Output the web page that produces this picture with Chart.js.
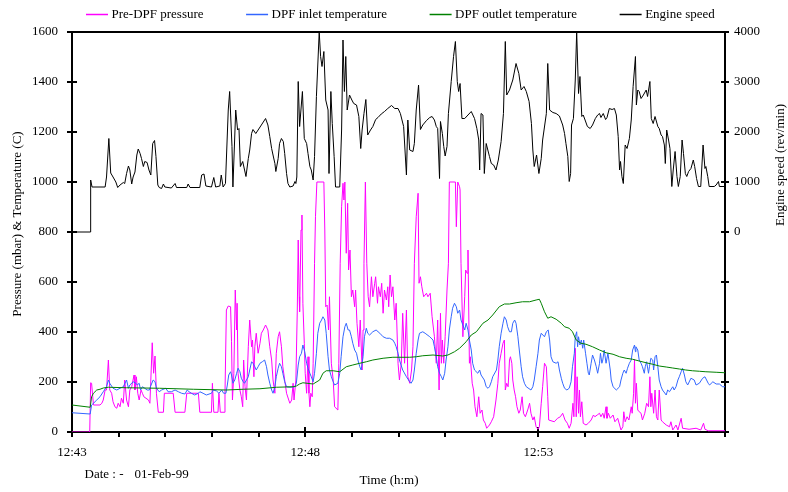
<!DOCTYPE html>
<html>
<head>
<meta charset="utf-8">
<script src="https://cdn.jsdelivr.net/npm/chart.js@4.4.1/dist/chart.umd.min.js"></script>
<style>
  html, body { margin: 0; padding: 0; background: #fff; }
  #wrap { position: relative; width: 788px; height: 492px; }
</style>
</head>
<body>
<div id="wrap"><canvas id="chart" width="788" height="492"></canvas></div>
<script>
const FONT = '"Liberation Serif", "Times New Roman", serif'

// [minutes after 12:43, value]
const pressure = [[0,0],[0.38,0],[0.40,197],[0.42,195],[0.46,108],[0.60,108],[0.64,115],[0.67,128],[0.71,168],[0.74,168],[0.78,288],[0.81,168],[0.85,155],[0.88,121],[0.92,101],[0.96,95],[0.99,115],[1.03,101],[1.06,135],[1.10,115],[1.13,208],[1.17,128],[1.21,101],[1.24,168],[1.28,181],[1.33,228],[1.35,168],[1.38,221],[1.41,155],[1.44,128],[1.48,168],[1.51,155],[1.54,141],[1.64,128],[1.67,115],[1.69,208],[1.72,357],[1.75,235],[1.78,304],[1.81,155],[1.85,79],[1.96,79],[1.98,155],[2.17,155],[2.21,79],[2.42,79],[2.46,155],[2.71,155],[2.74,79],[2.99,79],[3.01,195],[3.04,79],[3.13,79],[3.15,155],[3.18,79],[3.26,79],[3.28,155],[3.31,488],[3.35,504],[3.40,501],[3.42,361],[3.44,128],[3.47,235],[3.50,568],[3.53,408],[3.54,515],[3.56,235],[3.60,168],[3.63,141],[3.66,101],[3.68,288],[3.71,181],[3.74,128],[3.78,341],[3.81,448],[3.85,341],[3.87,368],[3.90,221],[3.92,341],[3.95,395],[3.99,315],[4.03,355],[4.06,395],[4.10,408],[4.15,428],[4.20,408],[4.24,341],[4.28,288],[4.31,208],[4.35,155],[4.38,315],[4.42,381],[4.45,401],[4.49,341],[4.52,261],[4.56,208],[4.60,155],[4.67,115],[4.71,128],[4.74,195],[4.76,128],[4.80,208],[4.83,488],[4.85,768],[4.87,541],[4.88,481],[4.91,808],[4.93,868],[4.95,515],[4.98,355],[5.00,235],[5.03,155],[5.06,301],[5.08,155],[5.10,101],[5.12,155],[5.15,141],[5.17,275],[5.20,675],[5.22,861],[5.25,1000],[5.40,1000],[5.42,808],[5.44,501],[5.47,508],[5.50,408],[5.52,541],[5.56,275],[5.60,208],[5.63,101],[5.70,88],[5.72,275],[5.75,675],[5.78,901],[5.81,995],[5.83,928],[5.85,1000],[5.88,715],[5.91,915],[5.93,648],[5.96,728],[5.99,541],[6.02,568],[6.06,501],[6.08,568],[6.11,435],[6.15,341],[6.18,448],[6.22,248],[6.24,408],[6.26,675],[6.29,1000],[6.32,675],[6.35,541],[6.38,501],[6.42,621],[6.45,541],[6.49,595],[6.51,621],[6.55,515],[6.57,581],[6.61,541],[6.64,595],[6.67,475],[6.70,568],[6.74,528],[6.77,581],[6.79,501],[6.82,628],[6.85,541],[6.88,581],[6.92,448],[6.95,515],[6.99,275],[7.02,208],[7.06,275],[7.09,475],[7.13,275],[7.17,488],[7.20,221],[7.24,195],[7.28,248],[7.31,341],[7.34,675],[7.38,861],[7.42,955],[7.44,595],[7.47,621],[7.50,581],[7.54,541],[7.60,555],[7.63,541],[7.68,555],[7.72,461],[7.77,381],[7.81,275],[7.84,448],[7.87,168],[7.90,475],[7.92,275],[7.94,368],[7.97,275],[8.00,381],[8.04,568],[8.07,675],[8.09,1000],[8.22,1000],[8.24,821],[8.27,1000],[8.31,981],[8.32,968],[8.34,675],[8.38,381],[8.42,541],[8.44,648],[8.47,635],[8.49,728],[8.52,275],[8.54,301],[8.58,195],[8.61,168],[8.64,101],[8.68,61],[8.72,141],[8.75,75],[8.79,88],[8.82,48],[8.86,35],[8.89,15],[8.95,28],[8.99,41],[9.04,61],[9.09,128],[9.13,195],[9.16,275],[9.20,315],[9.24,355],[9.27,368],[9.29,168],[9.32,195],[9.35,181],[9.38,288],[9.40,301],[9.43,275],[9.45,208],[9.48,168],[9.51,141],[9.54,101],[9.58,75],[9.61,88],[9.65,141],[9.68,75],[9.72,61],[9.77,88],[9.81,115],[9.84,75],[9.88,48],[9.91,61],[9.95,21],[9.99,11],[10.02,21],[10.06,115],[10.09,181],[10.13,275],[10.17,261],[10.20,141],[10.22,48],[10.34,41],[10.41,55],[10.47,61],[10.52,75],[10.57,48],[10.62,35],[10.66,15],[10.70,35],[10.74,115],[10.76,61],[10.79,335],[10.81,61],[10.83,221],[10.86,75],[10.88,168],[10.90,61],[10.93,121],[10.96,35],[11.02,28],[11.07,35],[11.13,48],[11.18,68],[11.21,61],[11.26,68],[11.31,75],[11.34,61],[11.38,75],[11.41,55],[11.45,101],[11.47,55],[11.50,75],[11.54,55],[11.60,68],[11.64,41],[11.70,55],[11.74,28],[11.77,8],[11.81,21],[11.83,81],[11.86,41],[11.90,61],[11.94,48],[11.99,101],[12.01,75],[12.04,155],[12.06,290],[12.08,115],[12.10,195],[12.13,88],[12.16,81],[12.20,75],[12.23,48],[12.28,75],[12.32,115],[12.36,101],[12.39,221],[12.41,101],[12.43,155],[12.47,75],[12.50,168],[12.53,61],[12.56,48],[12.59,168],[12.63,48],[12.66,41],[12.74,28],[12.81,21],[12.84,41],[12.88,8],[12.95,28],[12.99,8],[13.06,55],[13.09,15],[13.23,11],[13.38,15],[13.48,8],[13.54,35],[13.57,11],[13.64,5],[14,5]]

const inletTemp = [[0,77],[0.39,72],[0.42,108],[0.46,115],[0.53,128],[0.60,141],[0.67,161],[0.74,181],[0.78,208],[0.81,195],[0.88,175],[0.96,168],[1.03,175],[1.10,181],[1.17,208],[1.21,175],[1.24,188],[1.31,201],[1.37,195],[1.40,188],[1.44,195],[1.47,168],[1.51,181],[1.56,175],[1.61,168],[1.66,168],[1.68,181],[1.74,208],[1.78,201],[1.81,175],[1.87,161],[1.92,168],[2.01,175],[2.06,161],[2.13,161],[2.21,168],[2.28,161],[2.35,155],[2.42,152],[2.47,168],[2.51,161],[2.56,155],[2.63,148],[2.71,155],[2.74,161],[2.81,155],[2.88,148],[2.99,155],[3.03,168],[3.10,164],[3.15,155],[3.21,168],[3.25,155],[3.30,155],[3.33,188],[3.36,228],[3.40,241],[3.42,228],[3.45,195],[3.49,208],[3.53,235],[3.56,255],[3.60,241],[3.63,215],[3.67,201],[3.70,195],[3.74,208],[3.78,221],[3.81,248],[3.85,281],[3.88,275],[3.92,261],[3.95,248],[3.99,261],[4.03,275],[4.08,281],[4.13,288],[4.17,261],[4.20,228],[4.24,195],[4.28,168],[4.31,155],[4.35,181],[4.38,221],[4.42,255],[4.45,275],[4.49,261],[4.52,235],[4.56,201],[4.60,181],[4.67,179],[4.78,181],[4.81,195],[4.85,268],[4.88,301],[4.92,315],[4.95,348],[4.99,321],[5.03,275],[5.06,255],[5.10,235],[5.13,221],[5.17,201],[5.20,235],[5.24,315],[5.27,395],[5.31,435],[5.35,448],[5.38,461],[5.42,448],[5.45,395],[5.49,301],[5.52,248],[5.56,221],[5.60,201],[5.63,188],[5.70,195],[5.74,235],[5.77,301],[5.81,381],[5.85,421],[5.88,435],[5.92,408],[5.95,408],[5.99,381],[6.02,355],[6.06,328],[6.10,315],[6.13,288],[6.17,261],[6.20,248],[6.24,301],[6.27,381],[6.31,415],[6.34,395],[6.38,388],[6.45,401],[6.52,408],[6.60,395],[6.67,381],[6.74,375],[6.81,375],[6.88,368],[6.92,355],[6.95,341],[6.99,315],[7.02,288],[7.09,248],[7.17,221],[7.24,201],[7.27,195],[7.31,208],[7.34,248],[7.38,315],[7.42,368],[7.45,395],[7.52,401],[7.57,395],[7.67,381],[7.74,368],[7.77,341],[7.81,301],[7.84,261],[7.88,235],[7.92,221],[7.95,208],[7.99,235],[8.02,288],[8.06,341],[8.09,408],[8.13,461],[8.16,495],[8.20,515],[8.24,501],[8.27,475],[8.31,488],[8.34,448],[8.38,428],[8.42,408],[8.45,435],[8.49,408],[8.52,368],[8.56,328],[8.59,275],[8.63,248],[8.70,235],[8.74,248],[8.77,228],[8.84,208],[8.88,181],[8.92,175],[8.95,181],[8.99,201],[9.02,221],[9.10,248],[9.13,288],[9.16,341],[9.20,395],[9.24,435],[9.27,461],[9.31,448],[9.34,421],[9.38,401],[9.42,401],[9.45,435],[9.49,448],[9.52,435],[9.56,381],[9.59,328],[9.63,261],[9.66,221],[9.70,195],[9.74,181],[9.84,168],[9.88,181],[9.91,208],[9.95,261],[9.99,315],[10.02,368],[10.06,395],[10.13,381],[10.17,401],[10.21,408],[10.24,368],[10.27,301],[10.31,281],[10.38,275],[10.42,281],[10.45,248],[10.49,215],[10.52,195],[10.56,175],[10.61,168],[10.66,175],[10.70,201],[10.73,261],[10.77,315],[10.79,381],[10.82,401],[10.84,341],[10.86,381],[10.89,348],[10.92,368],[10.95,335],[10.97,368],[11.01,315],[11.04,275],[11.07,235],[11.09,228],[11.13,275],[11.16,308],[11.20,288],[11.24,261],[11.27,235],[11.31,275],[11.33,315],[11.36,275],[11.38,288],[11.41,328],[11.45,275],[11.49,315],[11.51,288],[11.54,248],[11.56,208],[11.60,181],[11.67,168],[11.74,181],[11.77,208],[11.81,235],[11.84,248],[11.88,235],[11.91,255],[11.95,275],[11.99,288],[12.02,328],[12.06,348],[12.08,321],[12.09,341],[12.13,328],[12.16,288],[12.20,275],[12.23,261],[12.27,235],[12.29,261],[12.32,281],[12.36,235],[12.38,261],[12.41,295],[12.45,288],[12.47,248],[12.50,301],[12.53,308],[12.56,261],[12.59,208],[12.63,181],[12.66,168],[12.74,148],[12.77,168],[12.81,161],[12.88,181],[12.91,168],[12.95,181],[12.99,208],[13.02,221],[13.06,241],[13.09,255],[13.13,228],[13.16,201],[13.20,188],[13.27,215],[13.34,208],[13.38,188],[13.45,195],[13.52,215],[13.57,221],[13.64,195],[13.67,188],[13.74,201],[13.81,192],[13.88,192],[13.95,181],[14,181]]

const outletTemp = [[0,108],[0.39,99],[0.42,141],[0.46,155],[0.53,168],[0.60,171],[0.67,176],[0.78,179],[1.17,177],[1.88,175],[2.60,171],[3.31,168],[3.67,171],[4.03,173],[4.38,179],[4.74,181],[4.81,184],[4.88,192],[4.95,197],[5.17,192],[5.31,208],[5.38,235],[5.45,245],[5.60,245],[5.74,241],[5.88,261],[6.02,268],[6.17,275],[6.31,281],[6.45,288],[6.67,295],[6.88,299],[7.24,299],[7.38,301],[7.52,305],[7.74,308],[7.95,304],[8.06,308],[8.20,321],[8.31,335],[8.45,361],[8.56,388],[8.67,401],[8.81,435],[8.92,448],[9.02,468],[9.16,501],[9.27,512],[9.38,512],[9.52,517],[9.66,521],[9.81,521],[9.95,528],[10.02,531],[10.06,515],[10.13,481],[10.20,455],[10.27,461],[10.38,451],[10.49,435],[10.56,421],[10.66,415],[10.73,401],[10.81,368],[10.91,355],[11.02,351],[11.16,341],[11.31,328],[11.45,317],[11.60,311],[11.74,301],[11.88,295],[12.02,291],[12.16,284],[12.31,277],[12.45,271],[12.59,264],[12.74,260],[12.88,256],[13.02,252],[13.16,248],[13.30,245],[13.45,243],[13.59,241],[13.81,239],[14,237]]

const engineSpeed = [[0,0],[0.39,0],[0.40,1040],[0.43,900],[0.71,900],[0.74,1100],[0.79,1870],[0.83,1180],[0.88,1100],[0.94,1000],[0.98,890],[1.03,940],[1.10,990],[1.13,970],[1.17,1170],[1.21,1320],[1.24,1240],[1.28,960],[1.31,1100],[1.35,1200],[1.39,1540],[1.42,1660],[1.46,1570],[1.49,1470],[1.53,1310],[1.56,1410],[1.61,1390],[1.65,1240],[1.69,1140],[1.73,1770],[1.77,1830],[1.80,1510],[1.84,940],[1.87,890],[1.92,870],[1.96,960],[1.99,900],[2.13,880],[2.21,970],[2.24,890],[2.46,890],[2.49,960],[2.53,890],[2.74,890],[2.78,1140],[2.83,1160],[2.87,920],[2.99,900],[3.04,1090],[3.08,900],[3.17,920],[3.20,1140],[3.24,900],[3.29,970],[3.35,2440],[3.38,2810],[3.43,1710],[3.45,900],[3.51,2440],[3.55,2040],[3.58,2070],[3.61,1310],[3.66,1410],[3.73,1110],[3.78,1470],[3.81,1640],[3.85,1970],[3.88,2050],[3.94,1970],[3.99,2040],[4.06,2140],[4.15,2270],[4.20,2140],[4.24,1910],[4.28,1670],[4.31,1540],[4.35,1370],[4.37,1210],[4.42,1470],[4.45,1770],[4.49,1870],[4.53,1810],[4.56,1570],[4.60,1170],[4.63,970],[4.67,900],[4.74,920],[4.78,1010],[4.80,970],[4.82,1100],[4.85,3010],[4.88,2110],[4.94,2810],[4.98,1870],[5.03,1770],[5.06,1570],[5.10,1310],[5.13,1240],[5.17,1040],[5.20,1510],[5.24,2710],[5.30,4000],[5.33,3510],[5.36,3310],[5.40,3610],[5.44,2640],[5.49,2440],[5.51,1170],[5.55,2810],[5.58,2170],[5.62,1510],[5.65,900],[5.74,900],[5.78,2040],[5.81,3840],[5.84,2810],[5.87,3510],[5.90,2440],[5.95,2740],[6.00,2640],[6.04,2570],[6.10,2540],[6.15,2310],[6.19,1670],[6.22,2040],[6.26,2370],[6.30,2650],[6.34,1940],[6.40,2040],[6.45,2110],[6.51,2250],[6.56,2290],[6.63,2360],[6.70,2410],[6.77,2470],[6.85,2530],[6.92,2470],[6.99,2470],[7.04,2370],[7.11,2110],[7.17,1140],[7.20,2240],[7.24,1640],[7.31,1610],[7.34,1770],[7.38,2440],[7.43,2940],[7.47,2050],[7.52,2140],[7.60,2230],[7.67,2290],[7.72,2310],[7.77,2240],[7.81,2110],[7.84,2070],[7.88,1070],[7.90,2210],[7.94,1970],[7.97,1710],[8.00,1520],[8.04,1710],[8.07,2370],[8.13,3010],[8.18,3510],[8.22,3810],[8.26,3010],[8.29,2810],[8.32,2970],[8.36,2270],[8.42,2270],[8.49,2340],[8.56,2410],[8.63,2270],[8.68,2070],[8.72,1840],[8.74,1240],[8.77,2370],[8.81,2340],[8.84,1170],[8.88,1770],[8.95,1510],[8.99,1370],[9.04,1340],[9.09,1240],[9.14,1440],[9.20,1810],[9.25,2370],[9.29,3810],[9.32,2740],[9.38,2840],[9.45,3040],[9.52,3370],[9.58,3170],[9.63,2840],[9.69,2910],[9.74,2810],[9.80,2610],[9.85,2170],[9.88,1640],[9.91,1310],[9.96,1540],[10.01,1170],[10.06,1470],[10.09,1840],[10.17,2370],[10.20,3370],[10.24,2440],[10.31,2390],[10.38,2370],[10.45,2320],[10.52,2140],[10.56,1970],[10.59,1770],[10.63,1510],[10.66,1010],[10.69,1170],[10.71,2140],[10.75,2270],[10.79,3040],[10.82,4000],[10.86,2770],[10.89,3110],[10.93,2310],[10.96,2340],[11.00,2240],[11.05,2110],[11.11,2070],[11.16,2140],[11.22,2270],[11.27,2340],[11.31,2370],[11.34,2290],[11.39,2370],[11.44,2250],[11.47,2290],[11.52,2470],[11.58,2450],[11.63,2470],[11.67,2340],[11.71,1910],[11.74,1240],[11.76,1410],[11.79,1110],[11.82,970],[11.86,1740],[11.90,1670],[11.95,1870],[11.99,2240],[12.03,2910],[12.08,3510],[12.10,2540],[12.13,2840],[12.16,2810],[12.20,2670],[12.25,2740],[12.31,2840],[12.34,2710],[12.39,3010],[12.42,2270],[12.46,2170],[12.50,2310],[12.56,2110],[12.59,2070],[12.63,1940],[12.66,1910],[12.70,1740],[12.72,1370],[12.75,2040],[12.79,1840],[12.82,1670],[12.86,910],[12.89,1240],[12.93,1610],[12.97,1110],[13.00,910],[13.04,1110],[13.08,1840],[13.11,1570],[13.15,1170],[13.18,1110],[13.22,1210],[13.27,1270],[13.32,1440],[13.35,1310],[13.39,1070],[13.43,910],[13.48,910],[13.53,1740],[13.57,1270],[13.59,1310],[13.63,1110],[13.66,910],[13.77,910],[13.81,940],[13.86,1010],[13.88,910],[14,910]]

const timeLabels = ["12:43", "12:48", "12:53"]   // every 5 minutes
const seriesNames = ["Pre-DPF pressure", "DPF inlet temperature", "DPF outlet temperature", "Engine speed"]
const seriesColors = ["#ff00ff", "#3366ff", "#008000", "#000000"]

function toXY(rows) {
  return rows.map(([x, y]) => ({ x, y }))
}

const frame = {
  id: "frame",
  beforeDatasetsDraw(chart) {
    const { ctx, chartArea: a, scales } = chart
    ctx.save()
    ctx.strokeStyle = "#000"
    ctx.lineWidth = 2
    ctx.strokeRect(a.left, a.top, a.right - a.left, a.bottom - a.top)
    ctx.beginPath()
    scales.y.ticks.forEach((t) => {
      const py = Math.round(scales.y.getPixelForValue(t.value))
      ctx.moveTo(a.left - 5, py)
      ctx.lineTo(a.left + 5, py)
    })
    scales.y2.ticks.forEach((t) => {
      const py = Math.round(scales.y2.getPixelForValue(t.value))
      ctx.moveTo(a.right - 4, py)
      ctx.lineTo(a.right + 4, py)
    })
    scales.x.ticks.forEach((t) => {
      const px = Math.round(scales.x.getPixelForValue(t.value))
      const major = t.value % 5 === 0
      ctx.moveTo(px, major ? a.bottom - 5 : a.bottom)
      ctx.lineTo(px, a.bottom + 5)
    })
    ctx.stroke()
    ctx.restore()
  },
  afterDraw(chart) {
    const { ctx, chartArea: a } = chart
    ctx.save()
    ctx.fillStyle = "#000"
    ctx.font = `13px ${FONT}`
    ctx.textBaseline = "middle"

    // legend across the top
    let x = 86
    seriesNames.forEach((name, i) => {
      ctx.strokeStyle = seriesColors[i]
      ctx.lineWidth = 1.5
      ctx.beginPath()
      ctx.moveTo(x, 14.5)
      ctx.lineTo(x + 22, 14.5)
      ctx.stroke()
      ctx.fillText(name, x + 25.5, 15)
      x += 25.5 + ctx.measureText(name).width + 42.5
    })

    // axis titles
    ctx.textAlign = "center"
    ctx.save()
    ctx.translate(18, (a.top + a.bottom) / 2 - 8)
    ctx.rotate(-Math.PI / 2)
    ctx.fillText("Pressure (mbar) & Temperature (C)", 0, 0)
    ctx.restore()
    ctx.save()
    ctx.translate(781, 165)
    ctx.rotate(-Math.PI / 2)
    ctx.fillText("Engine speed (rev/min)", 0, 0)
    ctx.restore()

    ctx.fillText("Time (h:m)", 389, 481)
    ctx.textAlign = "left"
    ctx.fillText("Date : -", 84.5, 475)
    ctx.fillText("01-Feb-99", 134.5, 475)
    ctx.restore()
  }
}

const tickFont = { family: FONT, size: 13 }

new Chart(document.getElementById("chart"), {
  type: "line",
  data: {
    datasets: [
      { label: seriesNames[0], data: toXY(pressure), borderColor: seriesColors[0], yAxisID: "y", order: 4 },
      { label: seriesNames[1], data: toXY(inletTemp), borderColor: seriesColors[1], yAxisID: "y", order: 3 },
      { label: seriesNames[2], data: toXY(outletTemp), borderColor: seriesColors[2], yAxisID: "y", order: 2 },
      { label: seriesNames[3], data: toXY(engineSpeed), borderColor: seriesColors[3], yAxisID: "y2", order: 1 }
    ]
  },
  options: {
    responsive: false,
    animation: false,
    layout: { padding: { top: 32, left: 0, right: 0, bottom: 0 } },
    elements: {
      line: { borderWidth: 1, tension: 0 },
      point: { radius: 0, hoverRadius: 0 }
    },
    plugins: {
      legend: { display: false },
      tooltip: { enabled: false }
    },
    scales: {
      x: {
        type: "linear",
        min: 0,
        max: 14,
        afterFit: (s) => { s.height = 60 },
        grid: { display: false, drawTicks: false },
        border: { display: false },
        ticks: {
          stepSize: 1,
          autoSkip: false,
          maxRotation: 0,
          padding: 13,
          color: "#000",
          font: tickFont,
          callback: (v) => (v % 5 === 0 ? timeLabels[v / 5] : "")
        }
      },
      y: {
        position: "left",
        min: 0,
        max: 1600,
        afterFit: (s) => { s.width = 72 },
        grid: { display: false, drawTicks: false },
        border: { display: false },
        ticks: { stepSize: 200, padding: 14, color: "#000", font: tickFont, callback: (v) => String(v) }
      },
      y2: {
        position: "right",
        min: -4000,
        max: 4000,
        afterFit: (s) => { s.width = 63 },
        grid: { display: false, drawTicks: false },
        border: { display: false },
        ticks: {
          stepSize: 1000,
          padding: 9,
          color: "#000",
          font: tickFont,
          callback: (v) => (v >= 0 ? String(v) : "")
        }
      }
    }
  },
  plugins: [frame]
})
</script>
</body>
</html>
